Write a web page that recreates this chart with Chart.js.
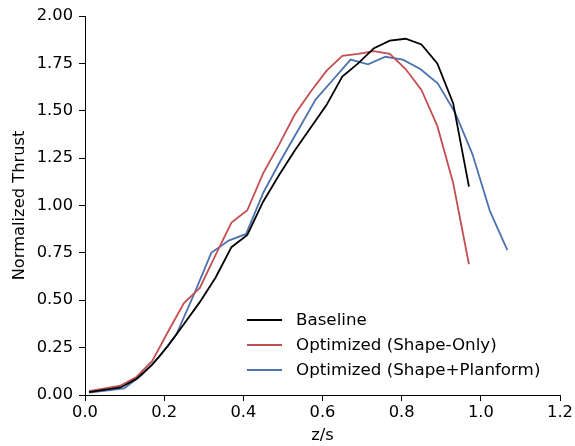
<!DOCTYPE html>
<html>
<head>
<meta charset="utf-8">
<script src="https://cdn.jsdelivr.net/npm/chart.js@4/dist/chart.umd.min.js"></script>
<style>
  html, body { margin: 0; padding: 0; background: #fff; }
  #wrap { width: 575px; height: 446px; }
</style>
</head>
<body>
<div id="wrap"><canvas id="c" width="575" height="446"></canvas></div>
<script>
// ---- data ----
const baselineX = [0.01, 0.09, 0.13, 0.17, 0.21, 0.25, 0.29, 0.33, 0.37, 0.41, 0.45, 0.49, 0.53, 0.57, 0.61, 0.65, 0.69, 0.73, 0.77, 0.81, 0.85, 0.89, 0.93, 0.97];
const baselineY = [0.015, 0.04, 0.085, 0.16, 0.26, 0.375, 0.49, 0.62, 0.78, 0.845, 1.02, 1.16, 1.29, 1.41, 1.53, 1.68, 1.75, 1.83, 1.87, 1.88, 1.85, 1.75, 1.54, 1.10];

const shapeOnlyX = [0.01, 0.09, 0.13, 0.17, 0.21, 0.25, 0.29, 0.33, 0.37, 0.41, 0.45, 0.49, 0.53, 0.57, 0.61, 0.65, 0.69, 0.73, 0.77, 0.81, 0.85, 0.89, 0.93, 0.97];
const shapeOnlyY = [0.02, 0.05, 0.095, 0.18, 0.335, 0.485, 0.565, 0.74, 0.91, 0.975, 1.17, 1.32, 1.48, 1.60, 1.71, 1.79, 1.80, 1.815, 1.80, 1.72, 1.61, 1.42, 1.12, 0.69];

const shapePlanX = [0.011, 0.099, 0.143, 0.187, 0.231, 0.275, 0.319, 0.363, 0.407, 0.451, 0.495, 0.539, 0.583, 0.627, 0.671, 0.715, 0.759, 0.803, 0.847, 0.891, 0.935, 0.979, 1.023, 1.067];
const shapePlanY = [0.012, 0.035, 0.105, 0.20, 0.32, 0.53, 0.75, 0.815, 0.85, 1.07, 1.24, 1.40, 1.56, 1.665, 1.77, 1.745, 1.785, 1.77, 1.72, 1.645, 1.49, 1.27, 0.97, 0.765];

const seriesLabels = ['Baseline', 'Optimized (Shape-Only)', 'Optimized (Shape+Planform)'];
const seriesColors = ['#000000', '#c44e52', '#4c72b0'];
const xTicks = [0.0, 0.2, 0.4, 0.6, 0.8, 1.0, 1.2];
const yTicks = [0.00, 0.25, 0.50, 0.75, 1.00, 1.25, 1.50, 1.75, 2.00];
const xTitle = 'z/s';
const yTitle = 'Normalized Thrust';

function pts(xs, ys) { return xs.map((x, i) => ({ x: x, y: ys[i] })); }

const FONT = 'DejaVu Sans';
const FS = 16.3;
const LFS = 16.7;

const legendPlugin = {
  id: 'mplLegend',
  afterDraw(chart) {
    const ctx = chart.ctx;
    ctx.save();
    ctx.font = LFS + 'px "' + FONT + '"';
    ctx.textBaseline = 'middle';
    ctx.textAlign = 'left';
    const x0 = 247, x1 = 282, tx = 296;
    const rows = [320, 345, 370];
    chart.data.datasets.forEach((ds, i) => {
      ctx.strokeStyle = ds.borderColor;
      ctx.lineWidth = 1.8;
      ctx.beginPath();
      ctx.moveTo(x0, rows[i]);
      ctx.lineTo(x1, rows[i]);
      ctx.stroke();
      ctx.fillStyle = '#000';
      ctx.fillText(ds.label, tx, rows[i] + 1);
    });
    ctx.restore();
  }
};

const mkDs = (i, xs, ys) => ({
  label: seriesLabels[i],
  data: pts(xs, ys),
  borderColor: seriesColors[i],
  backgroundColor: seriesColors[i],
  borderWidth: 1.8,
  pointRadius: 0,
  tension: 0,
  fill: false
});

new Chart(document.getElementById('c'), {
  type: 'line',
  data: {
    datasets: [
      mkDs(0, baselineX, baselineY),
      mkDs(1, shapeOnlyX, shapeOnlyY),
      mkDs(2, shapePlanX, shapePlanY)
    ]
  },
  options: {
    responsive: false,
    animation: false,
    devicePixelRatio: 1,
    layout: { padding: { top: 16, right: 15, left: 0, bottom: 0 } },
    plugins: {
      legend: { display: false },
      tooltip: { enabled: false }
    },
    scales: {
      x: {
        type: 'linear',
        min: 0, max: 1.2,
        afterBuildTicks(scale) { scale.ticks = xTicks.map(v => ({ value: v })); },
        afterFit(scale) { scale.height = 51; },
        ticks: {
          color: '#000',
          font: { family: FONT, size: FS },
          padding: 2,
          maxRotation: 0,
          callback: (v) => Number(v).toFixed(1)
        },
        grid: { display: true, drawOnChartArea: false, drawTicks: true, tickLength: 6, color: '#000', tickWidth: 1 },
        border: { display: true, color: '#000', width: 1 },
        title: { display: true, text: xTitle, color: '#000', font: { family: FONT, size: FS }, padding: { top: 0, bottom: 0 } }
      },
      y: {
        type: 'linear',
        min: 0, max: 2,
        afterBuildTicks(scale) { scale.ticks = yTicks.map(v => ({ value: v })); },
        afterFit(scale) { scale.width = 85; },
        ticks: {
          color: '#000',
          font: { family: FONT, size: FS },
          padding: 6,
          callback: (v) => Number(v).toFixed(2)
        },
        grid: { display: true, drawOnChartArea: false, drawTicks: true, tickLength: 6, color: '#000', tickWidth: 1 },
        border: { display: true, color: '#000', width: 1 },
        title: { display: true, text: yTitle, color: '#000', font: { family: FONT, size: FS }, padding: { top: 10, bottom: 0 } }
      }
    }
  },
  plugins: [legendPlugin]
});
</script>
</body>
</html>
